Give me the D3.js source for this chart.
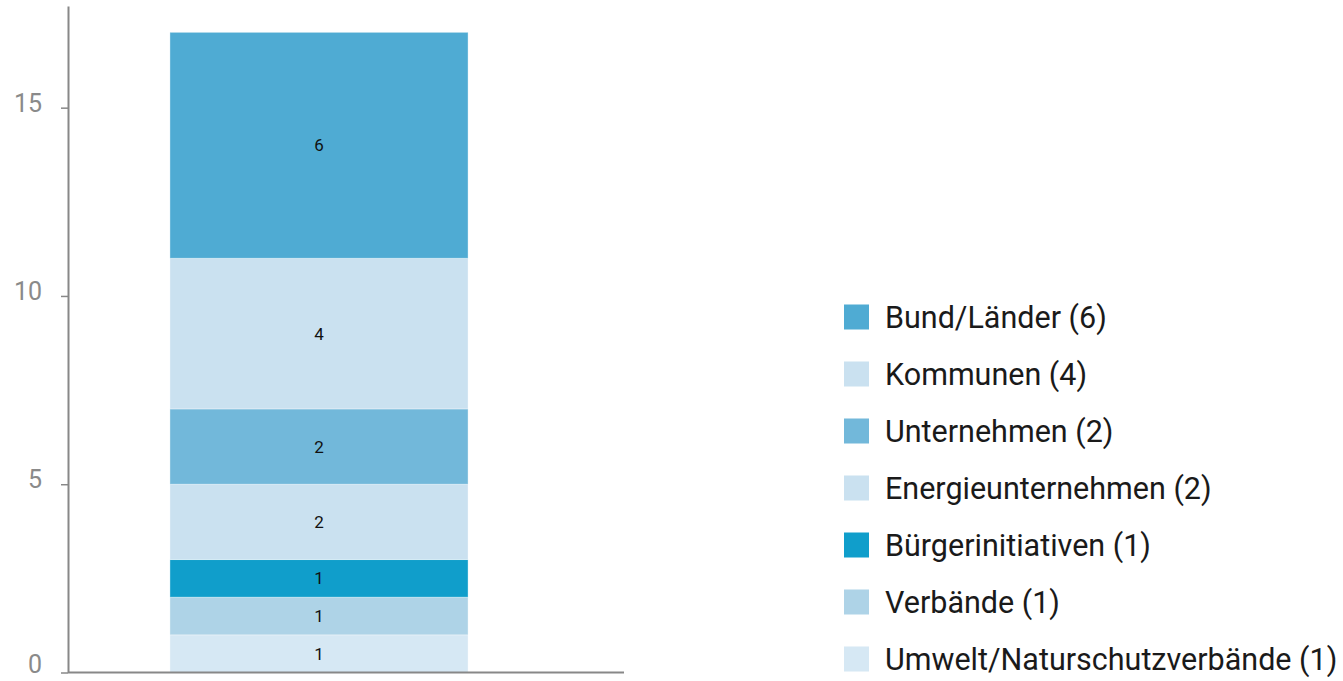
<!DOCTYPE html>
<html>
<head>
<meta charset="utf-8">
<script src="https://cdn.jsdelivr.net/npm/d3@7"></script>
<style>
  body { margin: 0; background: #fff; }
  svg { display: block; font-family: Roboto, "Noto Sans", sans-serif; }
</style>
</head>
<body>
<div id="chart-area"></div>
<script>
// Data, bottom of the stack first
var categories = ["Umwelt/Naturschutzverbände", "Verbände", "Bürgerinitiativen",
    "Energieunternehmen", "Unternehmen", "Kommunen", "Bund/Länder"];
var values = [1, 1, 1, 2, 2, 4, 6];
var colors = ["#d6e8f4", "#aed3e7", "#109ecb", "#cae1f0", "#72b8da", "#cae1f0", "#4fabd3"];
var yTicks = [0, 5, 10, 15];

var width = 1343, height = 681;

var svg = d3.select("#chart-area")
    .append("svg")
        .attr("width", width)
        .attr("height", height);

// Scales
var x = d3.scaleBand()
    .domain(["all"])
    .range([68, 570])
    .paddingInner(0)
    .paddingOuter(0.342);

var y = d3.scaleLinear()
    .domain([0, 17.7])
    .range([672.5, 6]);

var color = d3.scaleOrdinal()
    .domain(categories)
    .range(colors);

// Build one row for d3.stack
var row = { key: "all" };
categories.forEach(function(c, i) { row[c] = values[i]; });

var series = d3.stack().keys(categories)([row]);

// Bars
var seg = svg.append("g").selectAll("g")
    .data(series)
    .enter().append("g");

seg.append("rect")
    .attr("x", function(d){ return x(d[0].data.key); })
    .attr("width", x.bandwidth())
    .attr("y", function(d){ return y(d[0][1]); })
    .attr("height", function(d){ return y(d[0][0]) - y(d[0][1]); })
    .attr("fill", function(d){ return color(d.key); })
    .attr("stroke", "rgba(255,255,255,0.35)")
    .attr("stroke-width", 1);

seg.append("text")
    .attr("x", function(d){ return x(d[0].data.key) + x.bandwidth() / 2; })
    .attr("y", function(d){ return y((d[0][0] + d[0][1]) / 2); })
    .attr("dy", "0.35em")
    .attr("text-anchor", "middle")
    .attr("font-size", "17px")
    .attr("fill", "#111")
    .text(function(d){ return d[0][1] - d[0][0]; });

// Y Axis
var yAxisCall = d3.axisLeft(y)
    .tickValues(yTicks)
    .tickSize(7)
    .tickPadding(19)
    .tickSizeOuter(0);
var yAxisGroup = svg.append("g")
    .attr("class", "y axis")
    .attr("transform", "translate(68,0)")
    .call(yAxisCall);

yAxisGroup.select(".domain").attr("stroke", "#888").attr("stroke-width", 2);
yAxisGroup.selectAll(".tick line").attr("stroke", "#888").attr("stroke-width", 1.5);
yAxisGroup.selectAll(".tick text")
    .attr("fill", "#8a8a8a")
    .attr("font-size", "25px")
    // the 0 label sits on the bottom edge, lift it a bit so it is not cut
    .attr("dy", function(d){ return d === 0 ? "0em" : "0.15em"; })
    .attr("font-family", "Roboto, sans-serif");

// X axis line (no ticks)
svg.append("line")
    .attr("x1", 68).attr("x2", 624)
    .attr("y1", y(0)).attr("y2", y(0))
    .attr("stroke", "#888")
    .attr("stroke-width", 2);

// Legend, top entry is the top of the stack
var legend = svg.append("g")
    .attr("transform", "translate(844,317)");

var items = legend.selectAll("g")
    .data(categories.slice().reverse())
    .enter().append("g")
        .attr("transform", function(d, i){ return "translate(0," + (i * 57) + ")"; });

items.append("rect")
    .attr("x", 0)
    .attr("y", -12.5)
    .attr("width", 25)
    .attr("height", 25)
    .attr("fill", function(d){ return color(d); });

items.append("text")
    .attr("x", 41)
    .attr("y", 0)
    .attr("dy", "0.36em")
    .attr("font-size", "30.5px")
    .attr("fill", "#1a1a1a")
    .text(function(d){ return d + " (" + values[categories.indexOf(d)] + ")"; });
</script>
</body>
</html>
